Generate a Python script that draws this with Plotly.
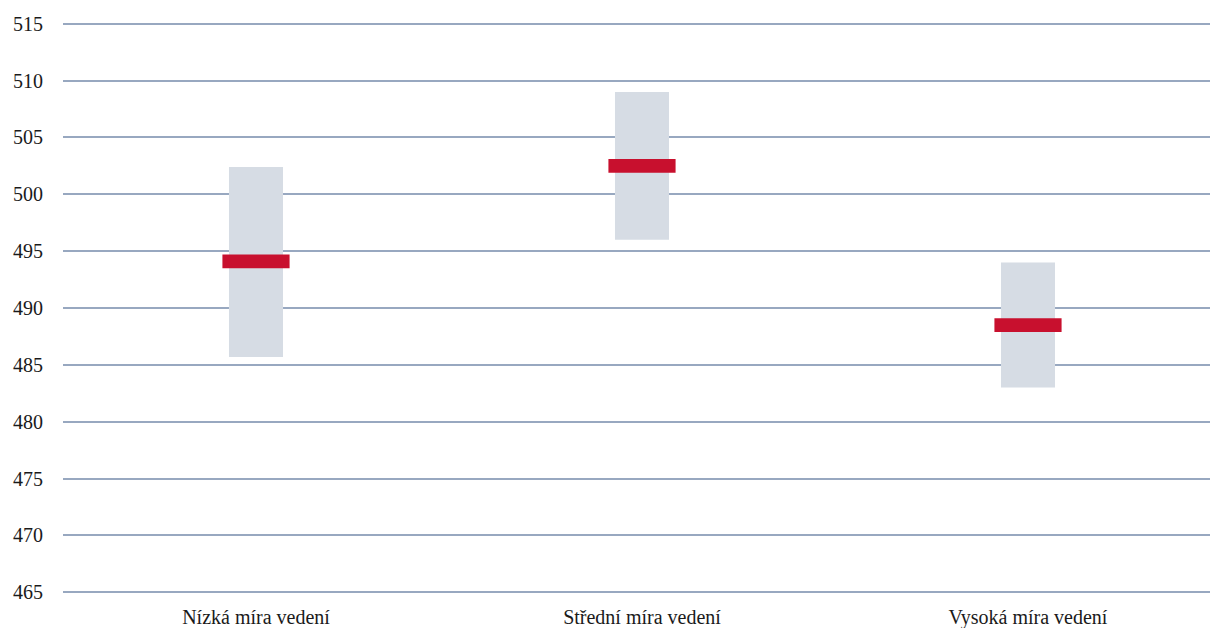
import plotly.graph_objects as go

categories = ["Nízká míra vedení", "Střední míra vedení", "Vysoká míra vedení"]
low_values = [485.7, 496.0, 483.0]
high_values = [502.4, 509.0, 494.0]
mean_values = [494.1, 502.5, 488.5]
y_ticks = [465, 470, 475, 480, 485, 490, 495, 500, 505, 510, 515]

x_pos = list(range(len(categories)))
mean_half = 0.6

fig = go.Figure()
fig.add_trace(go.Bar(
    x=x_pos,
    base=low_values,
    y=[h - l for h, l in zip(high_values, low_values)],
    width=0.14,
    marker=dict(color="#d6dce4", line=dict(width=0)),
    hoverinfo="skip",
    showlegend=False,
))
fig.add_trace(go.Bar(
    x=x_pos,
    base=[m - mean_half for m in mean_values],
    y=[2 * mean_half] * len(mean_values),
    width=0.174,
    marker=dict(color="#c8102e", line=dict(width=0)),
    showlegend=False,
))

serif = "Liberation Serif, Tinos, Times New Roman, DejaVu Serif, Noto Serif, serif"

fig.update_layout(
    width=1211,
    height=628,
    barmode="overlay",
    plot_bgcolor="white",
    paper_bgcolor="white",
    margin=dict(l=63, r=1, t=22, b=34, autoexpand=False),
    font=dict(family=serif, size=20, color="#1a1a1a"),
    xaxis=dict(
        range=[-0.5, 2.4715],
        tickmode="array",
        tickvals=x_pos,
        ticktext=categories,
        showgrid=False,
        zeroline=False,
        showline=False,
        ticks="",
        automargin=False,
        ticklabelstandoff=9,
        tickfont=dict(family=serif, size=20),
    ),
    yaxis=dict(
        range=[464.85, 515.15],
        tickmode="array",
        tickvals=y_ticks,
        showgrid=True,
        gridcolor="#98a8c0",
        gridwidth=1.5,
        zeroline=False,
        showline=False,
        ticks="",
        automargin=False,
        ticklabelstandoff=19,
        tickfont=dict(family=serif, size=20),
    ),
)

fig.write_html(
    "out.html",
    config={"displayModeBar": False},
    post_script="document.body.style.margin='0';document.body.style.overflow='hidden';",
)
